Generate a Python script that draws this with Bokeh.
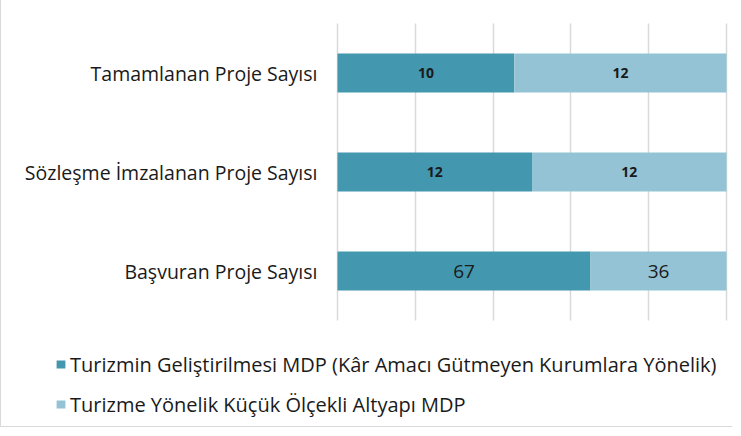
from bokeh.plotting import figure
from bokeh.models import (ColumnDataSource, Range1d, FixedTicker, Grid,
                          Legend, LegendItem)
from bokeh.core.properties import value
from bokeh.embed import file_html
from bokeh.resources import INLINE

# ---- data ----
categories = ["Tamamlanan Proje Sayısı", "Sözleşme İmzalanan Proje Sayısı", "Başvuran Proje Sayısı"]
series_names = ["Turizmin Geliştirilmesi MDP (Kâr Amacı Gütmeyen Kurumlara Yönelik)",
                "Turizme Yönelik Küçük Ölçekli Altyapı MDP"]
turizmin_gelistirilmesi = [10, 12, 67]
kucuk_olcekli_altyapi = [12, 12, 36]
x_ticks = [0, 0.2, 0.4, 0.6, 0.8, 1.0]

# ---- derived (100% stacked) ----
n = len(categories)
ypos = [n - 1 - i for i in range(n)]          # first category on top
tot = [a + b for a, b in zip(turizmin_gelistirilmesi, kucuk_olcekli_altyapi)]
f1 = [a / t for a, t in zip(turizmin_gelistirilmesi, tot)]
f2 = [b / t for b, t in zip(kucuk_olcekli_altyapi, tot)]

src = ColumnDataSource(dict(y=ypos, cat=categories, s1=f1, s2=f2,
                            zero=[0] * n,
                            c1=[v / 2 for v in f1],
                            c2=[a + b / 2 for a, b in zip(f1, f2)],
                            t1=[str(v) for v in turizmin_gelistirilmesi],
                            t2=[str(v) for v in kucuk_olcekli_altyapi]))

# ---- layout constants (pixels) ----
W, H = 732, 427
FRAME_L, FRAME_R = 336, 725       # x=0 and x=1 (100%)
BARS_T, BARS_B = 23, 320          # bar band top / bottom
px_x = (FRAME_R - FRAME_L)        # px per unit x
px_y = (BARS_B - BARS_T) / n      # px per category

FONT = "Open Sans"
DARK = "#4397AE"
LIGHT = "#93C3D4"
TXT = "#1a1a1a"
GRID = "#d9d9d9"
BORDER = "1px solid #d9d9d9"

p = figure(width=W, height=H, output_backend="svg", toolbar_location=None,
           x_range=Range1d(-FRAME_L / px_x, 1 + (W - FRAME_R) / px_x),
           y_range=Range1d(-0.5 - (H - BARS_B) / px_y, n - 0.5 + BARS_T / px_y),
           min_border_left=0, min_border_right=0, min_border_top=0,
           min_border_bottom=0)
p.styles = {"border-left": BORDER, "border-bottom": BORDER}
p.outline_line_color = None
p.background_fill_color = "white"
p.border_fill_color = "white"
p.xaxis.visible = False
p.yaxis.visible = False
p.ygrid.grid_line_color = None

# vertical gridlines only over the bar band
if "cross_bounds" in Grid.properties():
    p.xgrid.ticker = FixedTicker(ticks=x_ticks)
    p.xgrid.cross_bounds = (-0.5, n - 0.5)
    p.xgrid.grid_line_color = GRID
    p.xgrid.grid_line_width = 1.5
else:
    p.xgrid.grid_line_color = None
    p.segment(x0=x_ticks, x1=x_ticks, y0=[-0.5] * len(x_ticks),
              y1=[n - 0.5] * len(x_ticks), line_color=GRID, line_width=1.5,
              level="underlay")

r = p.hbar_stack(["s1", "s2"], y="y", height=0.394, color=[DARK, LIGHT],
                 line_color=None, source=src)

# category labels (right-aligned, left of the 0% line)
p.text(x="zero", y="y", text="cat", source=src, x_offset=-20,
       text_align="right", text_baseline="middle", text_font=value(FONT),
       text_font_size="19.5px", text_color=TXT)

# data labels
for idxs, size, style in [([0, 1], "14px", "bold"), ([2], "19px", "normal")]:
    sub = ColumnDataSource(dict(
        y=[ypos[i] for i in idxs],
        c1=[src.data["c1"][i] for i in idxs], c2=[src.data["c2"][i] for i in idxs],
        t1=[src.data["t1"][i] for i in idxs], t2=[src.data["t2"][i] for i in idxs]))
    for cx, tx in [("c1", "t1"), ("c2", "t2")]:
        p.text(x=cx, y="y", text=tx, source=sub, text_align="center",
               text_baseline="middle", text_font=value(FONT),
               text_font_size=size, text_font_style=style, text_color=TXT)

legend = Legend(items=[LegendItem(label=series_names[0], renderers=[r[0]]),
                       LegendItem(label=series_names[1], renderers=[r[1]])],
                location=(54, 9), orientation="vertical",
                glyph_width=11, glyph_height=10, label_standoff=4,
                label_text_font=FONT, label_text_font_size="20px",
                label_text_color=TXT, label_height=28, spacing=12,
                padding=0, margin=0, border_line_color=None,
                background_fill_alpha=0)
p.add_layout(legend, "center")

open("out.html", "w").write(file_html(p, INLINE))
